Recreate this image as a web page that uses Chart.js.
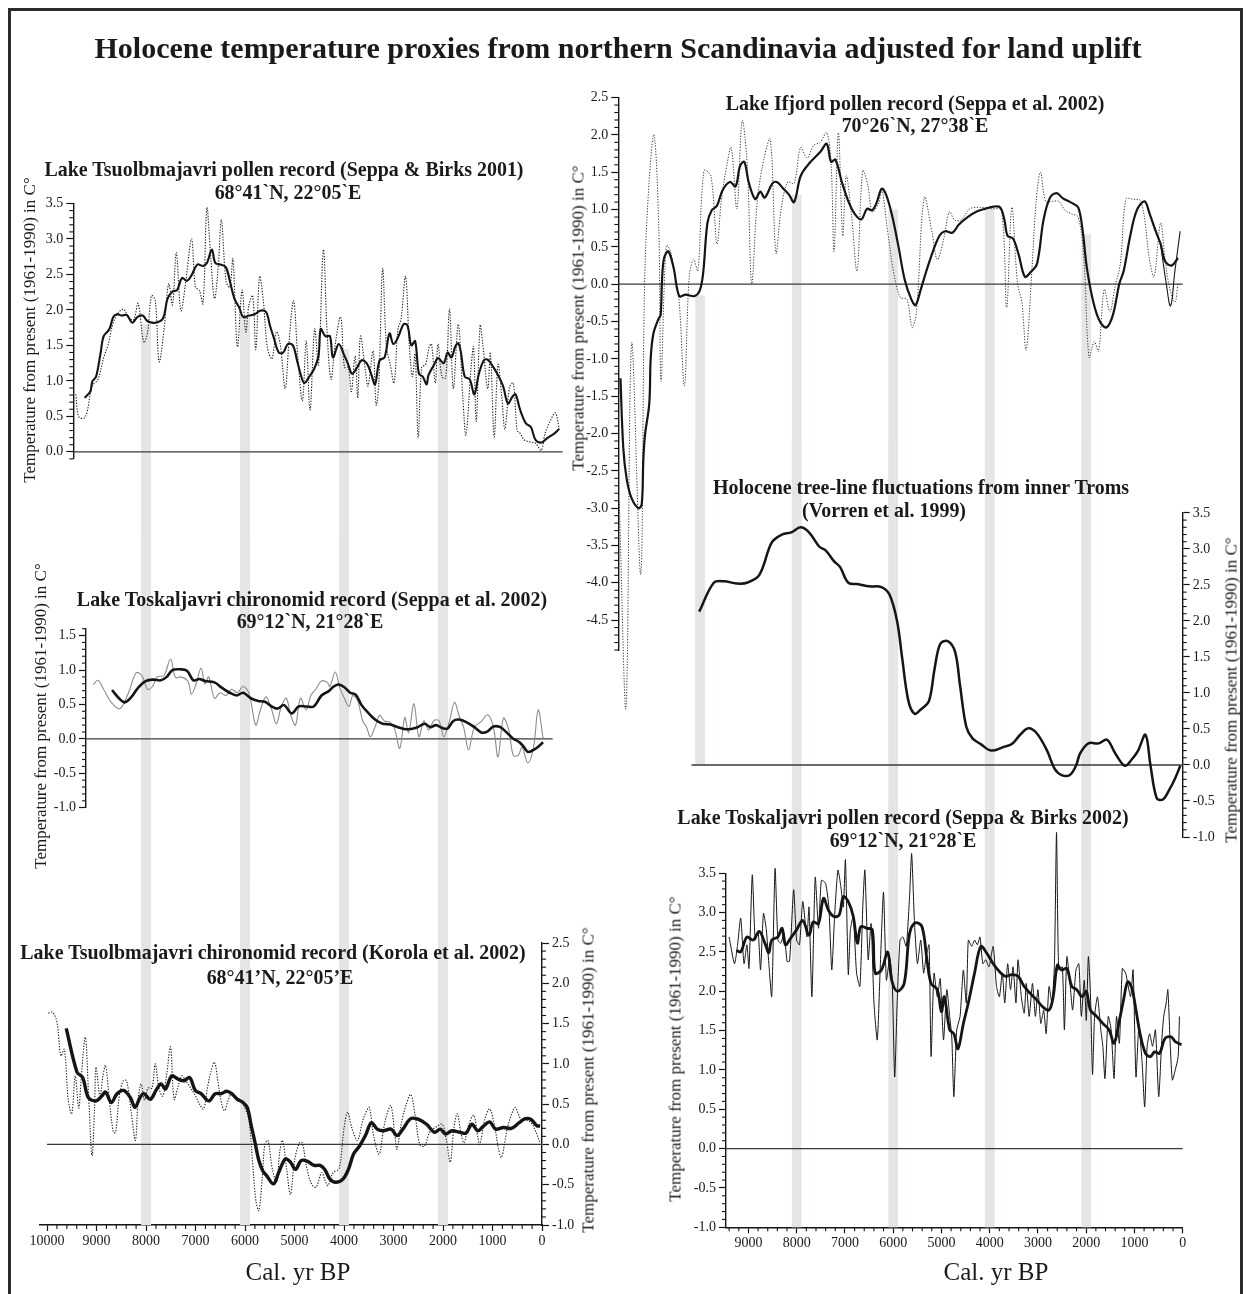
<!DOCTYPE html>
<html>
<head>
<meta charset="utf-8">
<title>Holocene temperature proxies</title>
<script src="https://cdn.jsdelivr.net/npm/chart.js@4.4.1/dist/chart.umd.min.js"></script>
<style>
  html, body { margin: 0; padding: 0; background: #fff; }
  #fig { position: relative; width: 1249px; height: 1294px; overflow: hidden;
         font-family: 'Liberation Serif', 'Times New Roman', serif; color: #1a1a1a; }
  canvas { position: absolute; }
  .frame { position: absolute; left: 8px; top: 8px; width: 1235px; height: 1300px;
           border: 3px solid #2b2b2b; border-bottom: none; box-sizing: border-box; }
  .t { position: absolute; white-space: nowrap; line-height: 1; z-index: 5;
       transform: translate(-50%, -50%); }
  .main { font-weight: bold; font-size: 30px; }
  .pt { font-weight: bold; font-size: 21px; transform: translate(-50%, -50%) scaleX(0.95); }
  .at { font-size: 17px; transform: translate(-50%, -50%) rotate(-90deg); }
  .xl { font-size: 25px; }
</style>
</head>
<body>
<div id="fig">
  <div class="frame"></div>
  <canvas id="cA"></canvas>
  <canvas id="cB"></canvas>
  <canvas id="cC"></canvas>
  <canvas id="cD"></canvas>
  <canvas id="cE"></canvas>
  <canvas id="cF"></canvas>

  <div class="t main" style="left:618px; top:48px;">Holocene temperature proxies from northern Scandinavia adjusted for land uplift</div>

  <div class="t pt" style="left:284px; top:169px;">Lake Tsuolbmajavri pollen record (Seppa &amp; Birks 2001)</div>
  <div class="t pt" style="left:288px; top:192px;">68°41`N, 22°05`E</div>
  <div class="t at" style="left:29px; top:330px;">Temperature from present (1961-1990) in C°</div>

  <div class="t pt" style="left:312px; top:599px;">Lake Toskaljavri chironomid record (Seppa et al. 2002)</div>
  <div class="t pt" style="left:310px; top:621px;">69°12`N, 21°28`E</div>
  <div class="t at" style="left:40px; top:716px;">Temperature from present (1961-1990) in C°</div>

  <div class="t pt" style="left:273px; top:952px;">Lake Tsuolbmajavri chironomid record (Korola et al. 2002)</div>
  <div class="t pt" style="left:280px; top:977px;">68°41’N, 22°05’E</div>
  <div class="t at" style="left:588px; top:1080px;">Temperature from present (1961-1990) in C°</div>
  <div class="t xl" style="left:298px; top:1271px;">Cal. yr BP</div>

  <div class="t pt" style="left:915px; top:103px;">Lake Ifjord pollen record (Seppa et al. 2002)</div>
  <div class="t pt" style="left:915px; top:125px;">70°26`N, 27°38`E</div>
  <div class="t at" style="left:578px; top:318px;">Temperature from present (1961-1990) in C°</div>

  <div class="t pt" style="left:921px; top:487px;">Holocene tree-line fluctuations from inner Troms</div>
  <div class="t pt" style="left:884px; top:510px;">(Vorren et al. 1999)</div>
  <div class="t at" style="left:1231px; top:690px;">Temperature from present (1961-1990) in C°</div>

  <div class="t pt" style="left:903px; top:817px;">Lake Toskaljavri pollen record (Seppa &amp; Birks 2002)</div>
  <div class="t pt" style="left:903px; top:840px;">69°12`N, 21°28`E</div>
  <div class="t at" style="left:675px; top:1049px;">Temperature from present (1961-1990) in C°</div>
  <div class="t xl" style="left:996px; top:1271px;">Cal. yr BP</div>
</div>

<script>
// ---- Records: [cal. yr BP, temperature anomaly vs 1961-1990 (°C)] ----

// Lake Tsuolbmajavri pollen record (Seppa & Birks 2001)
const tsuoPollenSmooth = [[9242,0.76],[9126,0.85],[9087,0.99],[9010,1.06],[8917,1.40],[8856,1.63],[8740,1.73],[8663,1.90],[8585,1.94],[8485,1.92],[8392,1.93],[8277,1.82],[8176,1.90],[8068,1.92],[7968,1.84],[7813,1.82],[7659,1.88],[7566,2.16],[7466,2.26],[7373,2.28],[7273,2.45],[7173,2.41],[7080,2.49],[6964,2.64],[6849,2.62],[6771,2.66],[6671,2.85],[6601,2.66],[6501,2.64],[6385,2.60],[6308,2.41],[6215,2.16],[6115,2.03],[6038,1.90],[5922,1.92],[5806,1.94],[5690,1.99],[5575,1.97],[5497,1.78],[5420,1.61],[5320,1.40],[5227,1.40],[5135,1.52],[5034,1.50],[4957,1.31],[4880,1.10],[4803,0.97],[4702,1.06],[4610,1.16],[4517,1.35],[4471,1.73],[4378,1.63],[4285,1.63],[4224,1.33],[4108,1.52],[4008,1.38],[3915,1.23],[3838,1.10],[3745,1.18],[3645,1.29],[3544,1.25],[3452,1.10],[3374,0.95],[3282,1.29],[3181,1.33],[3081,1.67],[3004,1.52],[2911,1.61],[2796,1.80],[2718,1.78],[2641,1.50],[2564,1.56],[2487,1.10],[2410,1.06],[2332,0.95],[2294,1.08],[2178,1.23],[2101,1.32],[1985,1.25],[1908,1.40],[1831,1.33],[1754,1.48],[1692,1.53],[1638,1.40],[1561,1.06],[1460,1.02],[1367,0.81],[1275,1.10],[1174,1.29],[1097,1.30],[981,1.19],[904,1.10],[788,0.93],[688,0.68],[595,0.78],[534,0.81],[441,0.59],[325,0.40],[225,0.35],[132,0.17],[16,0.13],[-100,0.19],[-254,0.26],[-347,0.32]];
const tsuoPollenRaw = [[9419,0.81],[9357,0.49],[9226,0.49],[9087,0.93],[8971,1.02],[8856,1.33],[8763,1.52],[8663,1.82],[8547,1.97],[8454,2.01],[8354,1.90],[8253,1.86],[8161,2.09],[8045,1.54],[7968,1.69],[7891,2.20],[7813,2.13],[7736,1.27],[7636,1.73],[7543,2.37],[7466,2.07],[7389,2.81],[7296,1.99],[7196,2.41],[7080,3.00],[7003,2.32],[6926,2.28],[6849,2.09],[6771,3.44],[6694,2.75],[6617,2.16],[6540,2.62],[6478,3.27],[6385,2.41],[6308,2.32],[6246,2.72],[6154,1.48],[6061,2.28],[5984,1.69],[5922,2.07],[5845,2.20],[5783,1.44],[5706,2.47],[5628,2.11],[5551,1.48],[5458,1.31],[5366,1.69],[5289,1.52],[5189,0.89],[5111,1.56],[5019,2.13],[4934,1.33],[4841,0.72],[4764,1.56],[4687,0.59],[4594,1.73],[4517,1.23],[4417,2.85],[4340,1.65],[4262,1.02],[4185,1.48],[4069,1.90],[3992,1.19],[3915,1.19],[3853,0.85],[3776,1.35],[3722,0.76],[3668,1.63],[3568,1.14],[3514,0.93],[3413,1.42],[3351,0.66],[3297,0.97],[3220,2.58],[3143,1.48],[3066,1.23],[2989,0.97],[2911,1.73],[2850,1.86],[2757,2.47],[2680,1.48],[2618,1.06],[2564,1.38],[2502,0.21],[2432,1.19],[2355,1.23],[2278,1.48],[2232,1.52],[2155,0.97],[2101,1.52],[2023,1.06],[1946,1.04],[1869,2.01],[1792,0.89],[1692,1.80],[1599,0.76],[1537,0.24],[1429,1.23],[1383,1.48],[1329,0.43],[1251,1.78],[1197,1.52],[1097,0.89],[1043,1.40],[966,0.21],[889,1.23],[811,0.76],[750,0.32],[657,0.91],[580,0.97],[503,0.30],[441,0.26],[364,0.17],[248,0.14],[132,0.12],[16,0.02],[-61,0.26],[-177,0.45],[-270,0.55],[-347,0.32]];

// Lake Toskaljavri chironomid record (Seppa et al. 2002)
const toskChiroSmooth = [[8686,0.71],[8547,0.59],[8431,0.53],[8315,0.59],[8161,0.74],[8006,0.84],[7852,0.86],[7698,0.85],[7582,0.90],[7466,1.00],[7312,1.01],[7173,0.99],[7041,0.85],[6926,0.87],[6810,0.84],[6617,0.82],[6463,0.74],[6308,0.67],[6169,0.63],[6038,0.67],[5883,0.59],[5729,0.55],[5598,0.54],[5459,0.47],[5343,0.44],[5212,0.49],[5057,0.37],[4918,0.47],[4764,0.47],[4610,0.47],[4455,0.63],[4316,0.69],[4208,0.76],[4108,0.79],[3992,0.75],[3876,0.67],[3760,0.64],[3645,0.49],[3514,0.38],[3374,0.28],[3220,0.22],[3066,0.21],[2911,0.17],[2757,0.14],[2603,0.15],[2510,0.17],[2371,0.22],[2256,0.17],[2139,0.20],[2023,0.16],[1908,0.15],[1792,0.26],[1676,0.28],[1522,0.24],[1367,0.17],[1213,0.09],[1097,0.11],[981,0.18],[842,0.17],[711,0.09],[595,0.01],[456,-0.05],[364,-0.12],[286,-0.19],[171,-0.16],[70,-0.11],[-22,-0.05]];
const toskChiroRaw = [[9064,0.79],[8971,0.85],[8856,0.72],[8701,0.53],[8524,0.44],[8354,0.67],[8199,0.96],[8084,0.92],[7968,0.72],[7868,0.76],[7775,0.90],[7636,0.92],[7505,1.16],[7404,0.89],[7296,0.90],[7157,0.84],[7080,0.65],[6987,0.80],[6887,1.03],[6810,0.80],[6733,0.90],[6617,0.59],[6501,0.67],[6385,0.63],[6269,0.72],[6154,0.67],[6038,0.76],[5922,0.67],[5783,0.20],[5690,0.42],[5575,0.61],[5459,0.42],[5366,0.22],[5266,0.47],[5166,0.59],[5073,0.34],[4980,0.20],[4880,0.59],[4764,0.42],[4671,0.63],[4571,0.72],[4455,0.84],[4339,0.82],[4285,0.76],[4177,0.97],[4085,0.74],[3992,0.59],[3899,0.47],[3822,0.63],[3722,0.55],[3622,0.26],[3544,0.17],[3467,0.03],[3374,0.17],[3282,0.34],[3181,0.26],[3066,0.24],[2973,0.13],[2873,-0.14],[2772,0.31],[2695,0.09],[2587,0.51],[2487,0.03],[2386,0.26],[2294,0.13],[2178,0.27],[2078,0.26],[1985,0.03],[1869,0.26],[1769,0.53],[1676,0.34],[1584,0.17],[1483,-0.16],[1367,0.17],[1228,0.25],[1097,0.35],[981,0.17],[889,-0.26],[780,0.30],[672,0.13],[580,-0.24],[479,-0.24],[402,-0.12],[286,-0.35],[171,-0.12],[78,0.42],[-22,0.01]];

// Lake Tsuolbmajavri chironomid record (Korola et al. 2002)
const tsuoChiroSmooth = [[9612,1.44],[9396,0.90],[9280,0.83],[9164,0.58],[9010,0.54],[8894,0.60],[8817,0.65],[8701,0.52],[8585,0.63],[8454,0.67],[8315,0.58],[8223,0.46],[8122,0.58],[8045,0.63],[7914,0.56],[7790,0.68],[7698,0.75],[7605,0.69],[7481,0.85],[7351,0.81],[7234,0.79],[7119,0.83],[7003,0.67],[6887,0.63],[6733,0.54],[6602,0.63],[6478,0.63],[6370,0.66],[6269,0.63],[6154,0.56],[6040,0.52],[5950,0.45],[5880,0.25],[5800,0.03],[5720,-0.20],[5640,-0.33],[5560,-0.39],[5425,-0.49],[5321,-0.35],[5186,-0.18],[5082,-0.22],[4978,-0.31],[4867,-0.20],[4739,-0.21],[4604,-0.26],[4484,-0.26],[4389,-0.31],[4285,-0.43],[4166,-0.47],[4022,-0.43],[3911,-0.31],[3807,-0.12],[3687,-0.02],[3568,0.11],[3448,0.27],[3329,0.19],[3209,0.17],[3050,0.19],[2930,0.11],[2811,0.19],[2651,0.32],[2492,0.31],[2333,0.25],[2173,0.15],[2054,0.19],[1950,0.13],[1815,0.17],[1655,0.15],[1536,0.14],[1416,0.25],[1296,0.17],[1177,0.23],[1057,0.28],[938,0.19],[778,0.21],[619,0.20],[460,0.27],[340,0.32],[221,0.31],[101,0.23],[37,0.23]];
const tsuoChiroRaw = [[9975,1.63],[9890,1.64],[9800,1.52],[9720,1.10],[9650,1.18],[9570,0.55],[9500,0.38],[9430,0.85],[9360,0.45],[9310,0.82],[9226,1.33],[9160,0.60],[9091,-0.14],[9040,0.45],[9010,0.96],[8930,0.60],[8870,0.85],[8817,0.98],[8740,0.55],[8660,0.15],[8613,0.15],[8540,0.60],[8460,0.79],[8392,0.79],[8300,0.40],[8214,0.05],[8160,0.55],[8099,0.75],[8030,0.55],[7960,0.70],[7880,0.70],[7813,1.00],[7740,0.70],[7660,0.60],[7580,0.88],[7505,1.21],[7433,0.56],[7360,0.70],[7280,0.85],[7196,0.79],[7100,0.70],[7000,0.60],[6920,0.50],[6836,0.44],[6760,0.70],[6690,0.90],[6617,1.02],[6540,0.75],[6470,0.50],[6413,0.42],[6340,0.55],[6280,0.62],[6200,0.60],[6100,0.55],[6000,0.45],[5920,0.30],[5850,-0.20],[5780,-0.70],[5720,-0.82],[5650,-0.40],[5600,0.00],[5537,0.05],[5450,-0.30],[5361,-0.47],[5300,-0.10],[5242,0.05],[5160,-0.30],[5082,-0.62],[5000,-0.20],[4900,0.02],[4843,0.02],[4750,-0.30],[4650,-0.50],[4564,-0.53],[4450,-0.35],[4380,-0.45],[4325,-0.51],[4220,-0.35],[4100,-0.30],[4000,0.20],[3926,0.40],[3840,0.20],[3727,0.05],[3620,0.30],[3540,0.42],[3488,0.46],[3400,0.10],[3289,-0.12],[3200,0.20],[3120,0.40],[3050,0.48],[2970,0.10],[2930,-0.06],[2830,0.30],[2740,0.50],[2651,0.62],[2560,0.35],[2470,0.00],[2372,-0.02],[2270,0.15],[2130,0.22],[2014,0.25],[1930,0.05],[1854,-0.22],[1780,0.20],[1711,0.38],[1640,0.15],[1576,0.02],[1480,0.25],[1376,0.36],[1300,0.10],[1256,0.00],[1160,0.30],[1057,0.44],[950,0.20],[880,-0.05],[818,-0.16],[700,0.20],[600,0.40],[539,0.46],[480,0.38],[420,0.31],[320,0.30],[221,0.27],[120,0.15],[37,0.02]];

// Lake Ifjord pollen record (Seppa et al. 2002)
const ifjordSmooth = [[11652,-1.26],[11594,-2.19],[11523,-2.61],[11420,-2.87],[11282,-3.00],[11212,-2.95],[11179,-2.36],[11144,-2.02],[11055,-1.60],[11026,-1.00],[10972,-0.67],[10868,-0.47],[10819,-0.41],[10794,0.01],[10749,0.35],[10659,0.44],[10551,0.22],[10434,-0.16],[10300,-0.14],[10120,-0.16],[10012,-0.09],[9940,0.14],[9850,0.82],[9760,0.99],[9652,1.05],[9536,1.26],[9383,1.37],[9266,1.31],[9176,1.58],[9086,1.64],[8996,1.37],[8861,1.14],[8754,1.24],[8664,1.16],[8502,1.35],[8412,1.37],[8277,1.28],[8160,1.20],[8053,1.10],[7918,1.45],[7738,1.62],[7513,1.77],[7378,1.88],[7288,1.64],[7199,1.67],[7064,1.37],[6929,1.11],[6794,0.94],[6659,0.87],[6543,1.01],[6435,0.99],[6345,1.09],[6237,1.28],[6147,1.20],[6030,0.94],[5895,0.52],[5761,0.06],[5626,-0.20],[5536,-0.28],[5428,-0.07],[5311,0.18],[5176,0.44],[5041,0.65],[4925,0.71],[4772,0.69],[4637,0.80],[4457,0.90],[4278,0.97],[4098,1.01],[3918,1.04],[3783,1.03],[3694,0.86],[3631,0.65],[3514,0.61],[3397,0.39],[3271,0.10],[3154,0.16],[3020,0.27],[2885,0.86],[2750,1.16],[2615,1.22],[2480,1.15],[2301,1.09],[2166,1.03],[2076,0.73],[1986,0.22],[1851,-0.24],[1716,-0.50],[1581,-0.58],[1446,-0.41],[1312,0.01],[1222,0.18],[1087,0.65],[952,0.99],[790,1.11],[683,0.94],[548,0.69],[458,0.54],[368,0.31],[233,0.25],[98,0.35]];
const ifjordRaw = [[11677,-2.91],[11537,-5.67],[11420,-0.79],[11233,-3.89],[11153,-0.03],[11063,1.33],[10956,2.00],[10857,0.73],[10812,-1.30],[10704,0.52],[10614,0.44],[10497,0.01],[10434,-0.24],[10326,-1.36],[10228,0.10],[10138,0.33],[10048,0.18],[9922,1.52],[9778,1.45],[9652,0.54],[9563,1.11],[9446,1.60],[9356,1.83],[9239,1.01],[9131,2.19],[9023,1.58],[8933,0.01],[8817,1.11],[8682,1.67],[8547,1.94],[8430,0.42],[8322,1.01],[8187,1.37],[8053,1.35],[7918,1.83],[7783,1.69],[7648,1.86],[7513,1.90],[7378,2.03],[7288,1.62],[7226,0.44],[7136,2.03],[7046,0.65],[6974,1.45],[6866,0.94],[6749,0.18],[6632,1.52],[6525,1.33],[6435,0.97],[6300,1.09],[6237,1.28],[6120,0.73],[5985,0.14],[5851,-0.18],[5716,-0.20],[5608,-0.58],[5518,-0.37],[5356,1.16],[5194,0.69],[5086,0.33],[4952,0.61],[4835,0.97],[4727,0.86],[4592,0.86],[4412,1.01],[4188,1.03],[3963,1.01],[3757,0.99],[3649,-0.31],[3541,1.03],[3424,0.01],[3334,-0.24],[3244,-0.88],[3127,0.18],[3037,1.11],[2948,1.50],[2840,1.11],[2705,1.11],[2570,1.11],[2435,0.99],[2301,0.94],[2166,0.90],[2049,0.35],[1941,-0.98],[1833,-0.77],[1743,-0.90],[1626,-0.07],[1509,-0.37],[1401,-0.03],[1294,0.27],[1177,1.14],[1042,1.14],[862,1.11],[683,0.31],[593,0.10],[458,0.82],[368,0.35],[278,-0.03],[161,-0.24],[98,0.01]];
const ifjordTail = [[458,0.54],[341,0.01],[251,-0.29],[161,0.18],[53,0.71]];

// Holocene tree-line fluctuations from inner Troms (Vorren et al. 1999)
const tromsTreeline = [[10019,2.13],[9718,2.53],[9503,2.55],[9246,2.52],[9030,2.53],[8773,2.64],[8516,3.09],[8302,3.20],[8114,3.23],[7917,3.30],[7745,3.23],[7530,3.03],[7401,2.98],[7229,2.83],[7102,2.75],[6930,2.53],[6715,2.51],[6501,2.48],[6243,2.47],[6072,2.36],[5917,1.99],[5815,1.49],[5685,0.89],[5557,0.71],[5428,0.77],[5258,0.89],[5146,1.32],[5026,1.68],[4871,1.72],[4717,1.57],[4614,1.10],[4485,0.53],[4357,0.37],[4185,0.29],[3971,0.20],[3712,0.25],[3541,0.29],[3369,0.42],[3197,0.51],[3025,0.44],[2811,0.20],[2656,-0.05],[2510,-0.14],[2340,-0.14],[2211,-0.01],[2126,0.16],[1954,0.30],[1739,0.30],[1568,0.35],[1397,0.16],[1200,-0.01],[1053,0.08],[924,0.20],[771,0.42],[667,-0.01],[539,-0.46],[411,-0.48],[282,-0.35],[153,-0.18],[50,-0.01]];

// Lake Toskaljavri pollen record (Seppa & Birks 2002)
const toskPollenSmooth = [[9246,2.52],[9160,2.50],[9032,2.69],[8903,2.65],[8774,2.76],[8646,2.59],[8577,2.49],[8517,2.65],[8389,2.69],[8303,2.80],[8234,2.59],[8131,2.67],[8002,2.78],[7874,2.90],[7745,2.71],[7659,2.88],[7548,2.86],[7445,3.18],[7342,3.03],[7230,2.95],[7119,2.97],[7033,3.20],[6930,3.14],[6827,2.95],[6741,2.61],[6673,2.82],[6544,2.80],[6433,2.78],[6373,2.23],[6244,2.27],[6115,2.50],[6030,2.14],[5918,2.00],[5772,2.10],[5661,2.73],[5541,2.87],[5403,2.82],[5300,2.40],[5215,2.10],[5086,2.02],[5000,1.74],[4940,1.93],[4829,1.51],[4743,1.46],[4657,1.27],[4545,1.59],[4443,1.85],[4314,2.23],[4185,2.57],[4057,2.48],[3928,2.35],[3799,2.25],[3670,2.19],[3542,2.21],[3413,2.19],[3284,2.06],[3156,1.97],[3027,1.89],[2898,1.80],[2770,1.76],[2684,1.93],[2598,2.33],[2513,2.27],[2401,2.29],[2298,2.06],[2195,2.02],[2084,1.93],[1998,2.00],[1912,1.76],[1783,1.68],[1655,1.59],[1526,1.51],[1423,1.34],[1312,1.63],[1226,1.89],[1140,2.12],[1054,2.04],[968,1.76],[883,1.46],[771,1.21],[668,1.17],[583,1.23],[480,1.21],[368,1.40],[240,1.42],[154,1.36],[25,1.32]];
const toskPollenRaw = [[9401,2.69],[9289,2.35],[9229,2.57],[9160,2.93],[9092,2.35],[9032,2.59],[8989,2.29],[8920,3.48],[8860,2.65],[8800,2.76],[8749,2.27],[8689,2.99],[8629,2.78],[8577,2.35],[8517,1.93],[8448,3.56],[8389,2.65],[8328,2.61],[8260,2.74],[8200,2.38],[8148,2.38],[8063,3.29],[8002,2.65],[7942,2.59],[7874,3.14],[7788,2.69],[7745,3.07],[7685,1.93],[7616,3.45],[7548,2.80],[7488,3.41],[7402,3.37],[7333,3.07],[7273,2.27],[7213,2.97],[7145,3.54],[7085,3.33],[7033,3.07],[6990,3.67],[6930,2.21],[6887,2.78],[6827,2.95],[6759,2.23],[6690,2.06],[6630,3.07],[6587,3.54],[6518,2.40],[6458,2.86],[6398,1.85],[6330,1.38],[6270,2.27],[6201,3.26],[6141,2.14],[6072,2.42],[6021,2.14],[5969,0.91],[5918,1.85],[5858,2.65],[5798,2.69],[5729,2.57],[5661,3.20],[5618,3.75],[5558,2.86],[5498,2.35],[5429,2.65],[5369,2.23],[5318,2.44],[5257,2.59],[5215,1.17],[5154,2.23],[5086,1.93],[5026,2.16],[4957,1.38],[4889,2.02],[4829,1.68],[4786,1.42],[4743,0.66],[4683,1.51],[4614,1.68],[4546,2.27],[4485,1.85],[4443,2.65],[4374,2.57],[4314,2.65],[4254,2.59],[4202,2.69],[4142,2.35],[4082,2.40],[4014,2.31],[3928,2.57],[3859,2.06],[3799,1.93],[3739,2.23],[3688,1.85],[3628,2.35],[3568,2.02],[3516,2.31],[3456,1.85],[3413,2.40],[3345,1.93],[3284,1.72],[3242,2.10],[3182,1.68],[3113,2.10],[3053,1.68],[3001,2.02],[2941,1.59],[2881,1.76],[2830,1.46],[2770,2.06],[2710,1.85],[2658,2.35],[2615,4.02],[2570,2.27],[2495,2.31],[2452,1.51],[2401,2.44],[2341,2.14],[2281,1.76],[2212,2.27],[2152,2.35],[2101,1.68],[2041,2.14],[1998,1.63],[1955,2.44],[1912,1.97],[1869,0.94],[1826,1.68],[1766,1.93],[1697,1.51],[1655,1.30],[1612,0.89],[1543,1.68],[1483,1.51],[1423,0.89],[1372,1.68],[1312,1.34],[1251,2.29],[1183,2.23],[1140,2.10],[1080,1.93],[1028,2.27],[968,0.91],[908,1.55],[840,1.08],[788,0.53],[737,1.30],[685,1.46],[625,1.30],[565,1.51],[497,0.66],[437,1.34],[394,1.68],[342,1.85],[308,2.02],[257,1.30],[214,0.87],[154,1.00],[94,1.17],[68,1.68]];

// Shaded reference intervals (cal. yr BP) and the level where each band emerges below the curve
const bandYearsLeft = [8000, 6000, 4000, 2000];
const bandTopsTsuoPollen = [1.8, 1.9, 1.45, 1.3];
const bandYearsRight = [10000, 8000, 6000, 4000, 2000];
const bandTopsIfjord = [-0.15, 1.2, 1.0, 1.03, 0.67];
const bandStopsTreeline = [0, null, null, null, null];

// ---- Drawing ----
Chart.defaults.font.family = "'Liberation Serif', 'Times New Roman', serif";
Chart.defaults.color = '#1a1a1a';

const INK = '#151515';
const BAND = '#e4e6e4';
const Y_W = 48, X_H = 30;

function onStep(v, step) {
  const r = v / step;
  return Math.abs(r - Math.round(r)) < 1e-6;
}

// grey bands behind the curves + short minor tick marks on the axes
const decor = {
  id: 'decor',
  beforeDatasetsDraw(chart, args, o) {
    if (!o.bands) return;
    const xs = chart.scales.x, ys = chart.scales.y, ctx = chart.ctx;
    ctx.save();
    ctx.fillStyle = BAND;
    o.bands.forEach((yr, i) => {
      if (yr > xs.max || yr < xs.min) return;
      const a = xs.getPixelForValue(yr + o.half), b = xs.getPixelForValue(yr - o.half);
      const top = o.tops ? ys.getPixelForValue(o.tops[i]) : 0;
      const stop = o.stops ? o.stops[i] : null;
      let bottom;
      if (stop !== null && stop !== undefined) bottom = ys.getPixelForValue(stop);
      else bottom = o.toArea ? chart.chartArea.bottom : chart.height;
      ctx.fillRect(Math.min(a, b), top, Math.abs(b - a), bottom - top);
    });
    ctx.restore();
  },
  afterDraw(chart, args, o) {
    const ctx = chart.ctx;
    ctx.save();
    ctx.strokeStyle = INK;
    ctx.lineWidth = 1.1;
    Object.values(chart.scales).forEach(s => {
      if (!s.options.display) return;
      const major = s.axis === 'x' ? 1000 : 0.5;
      s.ticks.forEach(t => {
        if (onStep(t.value, major)) return;
        const p = s.getPixelForValue(t.value);
        ctx.beginPath();
        if (s.position === 'left') { ctx.moveTo(s.right, p); ctx.lineTo(s.right - 4, p); }
        else if (s.position === 'right') { ctx.moveTo(s.left, p); ctx.lineTo(s.left + 4, p); }
        else { ctx.moveTo(p, s.top); ctx.lineTo(p, s.top + 4); }
        ctx.stroke();
      });
    });
    ctx.restore();
  }
};

function series(pairs, style) {
  return Object.assign({
    data: pairs.map(p => ({ x: p[0], y: p[1] })),
    pointRadius: 0, pointHoverRadius: 0, fill: false, clip: false,
    tension: 0.35, borderColor: INK, borderWidth: 1
  }, style);
}

function zeroLine(from, to) {
  return series([[from, 0], [to, 0]], { borderColor: '#3a3a3a', borderWidth: 1.3, tension: 0 });
}

function panel(id, box, area, cfg) {
  const cv = document.getElementById(id);
  cv.width = box.w; cv.height = box.h;
  Object.assign(cv.style, { left: box.x + 'px', top: box.y + 'px', width: box.w + 'px', height: box.h + 'px' });
  const padding = {
    left: (area.l - box.x) - (cfg.yPos === 'left' ? Y_W : 0),
    right: (box.x + box.w - area.r) - (cfg.yPos === 'right' ? Y_W : 0),
    top: area.t - box.y,
    bottom: (box.y + box.h - area.b) - (cfg.xAxis ? X_H : 0)
  };
  const tickFont = { size: 14 };
  return new Chart(cv, {
    type: 'line',
    data: { datasets: cfg.datasets },
    plugins: [decor],
    options: {
      responsive: false, animation: false, devicePixelRatio: 1,
      events: [],
      layout: { padding },
      plugins: { legend: { display: false }, tooltip: { enabled: false }, decor: cfg.decor || {} },
      scales: {
        x: {
          type: 'linear', reverse: true, min: cfg.xMin, max: cfg.xMax, display: !!cfg.xAxis,
          afterFit(s) { s.height = X_H; },
          border: { display: true, color: INK, width: 1.4 },
          grid: { drawOnChartArea: false, tickLength: 6, tickWidth: 1.2,
                  tickColor: c => onStep(c.tick.value, 1000) ? INK : 'rgba(0,0,0,0)' },
          ticks: { stepSize: 200, autoSkip: false, includeBounds: false, maxTicksLimit: 1000,
                   maxRotation: 0, minRotation: 0, padding: 2, font: tickFont,
                   callback: v => onStep(v, 1000) ? String(v) : '' }
        },
        y: {
          type: 'linear', position: cfg.yPos, min: cfg.yMin, max: cfg.yMax,
          afterFit(s) { s.width = Y_W; },
          border: { display: true, color: INK, width: 1.4 },
          grid: { drawOnChartArea: false, tickLength: 7, tickWidth: 1.2,
                  tickColor: c => onStep(c.tick.value, 0.5) ? INK : 'rgba(0,0,0,0)' },
          ticks: { stepSize: 0.1, autoSkip: false, includeBounds: false, maxTicksLimit: 1000,
                   padding: 3, font: tickFont,
                   callback: v => onStep(v, 0.5) ? (Math.abs(v) < 1e-9 ? 0 : v).toFixed(1) : '' }
        }
      }
    }
  });
}

const dotted = { borderDash: [1.3, 1.5], borderWidth: 1.1, borderColor: '#1e1e1e' };

// the off-scale spike of the Toskaljavri pollen series ends in an arrowhead
const toskPeak = Math.max(...toskPollenRaw.map(p => p[1]));

// Lake Tsuolbmajavri pollen
panel('cA', { x: 0, y: 130, w: 600, h: 410 }, { l: 73.3, r: 562.6, t: 203.5, b: 488.9 }, {
  yPos: 'left', yMin: -0.1, yMax: 3.5, xMin: -416, xMax: 9470,
  decor: { bands: bandYearsLeft, tops: bandTopsTsuoPollen, half: 100 },
  datasets: [
    series(tsuoPollenSmooth, { borderWidth: 2.1 }),
    series(tsuoPollenRaw, dotted),
    zeroLine(9470, -416)
  ]
});

// Lake Toskaljavri chironomids
panel('cB', { x: 0, y: 540, w: 600, h: 340 }, { l: 86, r: 552.7, t: 628.7, b: 837.7 }, {
  yPos: 'left', yMin: -1.0, yMax: 1.6, xMin: -216, xMax: 9212,
  decor: { bands: bandYearsLeft, half: 100 },
  datasets: [
    series(toskChiroSmooth, { borderWidth: 2.6 }),
    series(toskChiroRaw, { borderWidth: 1.1, borderColor: '#8c8c8c' }),
    zeroLine(9212, -216)
  ]
});

// Lake Tsuolbmajavri chironomids
panel('cC', { x: 0, y: 880, w: 620, h: 414 }, { l: 39.9, r: 542, t: 943, b: 1225 }, {
  yPos: 'right', xAxis: true, yMin: -1.0, yMax: 2.5, xMin: 0, xMax: 10144,
  decor: { bands: bandYearsLeft, half: 100, toArea: true },
  datasets: [
    series(tsuoChiroSmooth, { borderWidth: 3.4 }),
    series(tsuoChiroRaw, dotted),
    zeroLine(10000, 0)
  ]
});

// Lake Ifjord pollen
panel('cD', { x: 560, y: 60, w: 689, h: 700 }, { l: 618.3, r: 1182.7, t: 97.6, b: 680 }, {
  yPos: 'left', yMin: -4.9, yMax: 2.5, xMin: 0, xMax: 11697,
  decor: { bands: bandYearsRight, tops: bandTopsIfjord, half: 100 },
  datasets: [
    series(ifjordSmooth, { borderWidth: 2.2 }),
    series(ifjordTail, { borderWidth: 1.1, tension: 0.4 }),
    series(ifjordRaw, { borderDash: [1.2, 1.6], borderWidth: 1, borderColor: '#333' }),
    zeroLine(11697, 0)
  ]
});

// Tree-line, inner Troms
panel('cE', { x: 600, y: 440, w: 649, h: 440 }, { l: 691.5, r: 1182.7, t: 512.9, b: 867 }, {
  yPos: 'right', yMin: -1.0, yMax: 3.5, xMin: 0, xMax: 10180,
  decor: { bands: bandYearsRight, stops: bandStopsTreeline, half: 100 },
  datasets: [
    series(tromsTreeline, { borderWidth: 2.5 }),
    zeroLine(10180, 0)
  ]
});

// Lake Toskaljavri pollen
panel('cF', { x: 620, y: 800, w: 629, h: 494 }, { l: 726, r: 1182.7, t: 873.2, b: 1227.3 }, {
  yPos: 'left', xAxis: true, yMin: -1.0, yMax: 3.5, xMin: 0, xMax: 9465,
  decor: { bands: bandYearsRight, half: 100, toArea: true },
  datasets: [
    series(toskPollenSmooth, { borderWidth: 2.8 }),
    series(toskPollenRaw, {
      borderWidth: 1, tension: 0.2, pointStyle: 'triangle',
      pointRadius: c => (c.raw && c.raw.y === toskPeak) ? 2.6 : 0,
      pointBackgroundColor: INK, pointBorderColor: INK, pointBorderWidth: 0.5
    }),
    zeroLine(9465, 0)
  ]
});
</script>
</body>
</html>
